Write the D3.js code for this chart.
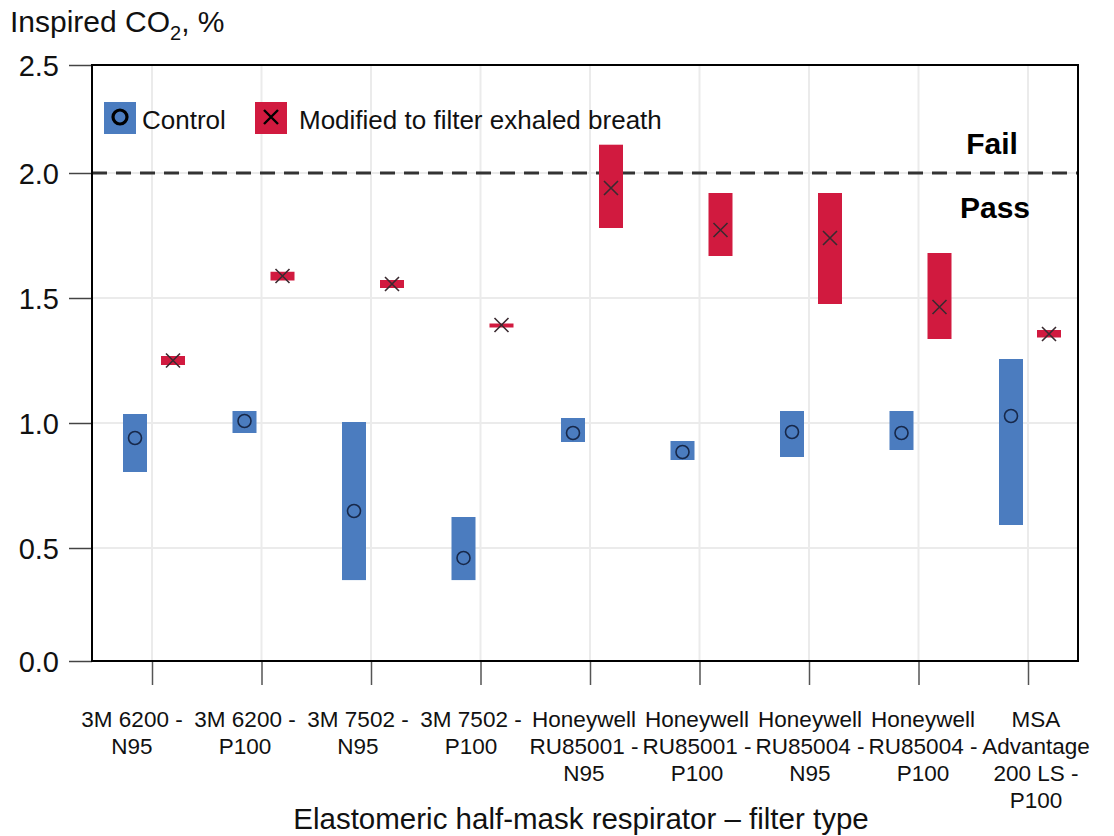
<!DOCTYPE html>
<html>
<head>
<meta charset="utf-8">
<script src="https://cdn.jsdelivr.net/npm/d3@7"></script>
<style>
  html, body { margin: 0; padding: 0; background: #fff; }
  svg { display: block; font-family: "Liberation Sans", Arial, sans-serif; }
</style>
</head>
<body>
<svg id="chart" width="1114" height="836"></svg>
<script>
// ---- data ----
const categories = [
  "3M 6200 - N95", "3M 6200 - P100", "3M 7502 - N95", "3M 7502 - P100",
  "Honeywell RU85001 - N95", "Honeywell RU85001 - P100",
  "Honeywell RU85004 - N95", "Honeywell RU85004 - P100",
  "MSA Advantage 200 LS - P100"
];
const categoryLines = [
  ["3M 6200 -", "N95"], ["3M 6200 -", "P100"], ["3M 7502 -", "N95"], ["3M 7502 -", "P100"],
  ["Honeywell", "RU85001 -", "N95"], ["Honeywell", "RU85001 -", "P100"],
  ["Honeywell", "RU85004 -", "N95"], ["Honeywell", "RU85004 -", "P100"],
  ["MSA", "Advantage", "200 LS -", "P100"]
];
const controlMean = [0.94, 1.008, 0.648, 0.456, 0.96, 0.884, 0.964, 0.96, 1.028];
const controlLow  = [0.804, 0.96, 0.358, 0.358, 0.924, 0.852, 0.864, 0.892, 0.592];
const controlHigh = [1.036, 1.048, 1.004, 0.624, 1.02, 0.928, 1.048, 1.048, 1.256];
const modifiedMean = [1.25, 1.588, 1.556, 1.392, 1.94, 1.772, 1.74, 1.464, 1.356];
const modifiedLow  = [1.232, 1.57, 1.54, 1.386, 1.78, 1.668, 1.476, 1.336, 1.342];
const modifiedHigh = [1.268, 1.605, 1.572, 1.398, 2.131, 1.92, 1.92, 1.68, 1.372];
const yTicks = [0.0, 0.5, 1.0, 1.5, 2.0, 2.5];
const threshold = 2.0;
const seriesNames = ["Control", "Modified to filter exhaled breath"];
const seriesColors = ["#4b7cbf", "#d11a3f"];

// ---- layout ----
const svg = d3.select("#chart");
const FONT = "'Liberation Sans', Arial, sans-serif";
const plot = { left: 92, right: 1078, top: 65, bottom: 661 };

const y = d3.scaleLinear()
  .domain([0, 0.5, 2.0, 2.5])
  .range([plot.bottom, 548, 173, plot.top]);
const x = d3.scalePoint().domain(categories).range([152, 1028]);
const xLabel = d3.scalePoint().domain(categories).range([132, 1036]);
const offCtrl = -17, offMod = 21, barW = 24;

// gridlines
const grid = svg.append("g");
grid.selectAll("line.h").data(yTicks.filter(d => d > 0 && d < 2.5)).enter().append("line")
  .attr("x1", plot.left).attr("x2", plot.right)
  .attr("y1", d => y(d)).attr("y2", d => y(d))
  .attr("stroke", "#ebebeb").attr("stroke-width", 2);
grid.selectAll("line.v").data(categories).enter().append("line")
  .attr("x1", d => x(d)).attr("x2", d => x(d))
  .attr("y1", plot.top).attr("y2", plot.bottom)
  .attr("stroke", "#ebebeb").attr("stroke-width", 2);

// threshold dashed line
svg.append("line")
  .attr("x1", plot.left).attr("x2", plot.right)
  .attr("y1", y(threshold)).attr("y2", y(threshold))
  .attr("stroke", "#333").attr("stroke-width", 3)
  .attr("stroke-dasharray", "15,9");

// bars
const ctrl = categories.map((c, i) => ({ c, m: controlMean[i], lo: controlLow[i], hi: controlHigh[i] }));
const mod = categories.map((c, i) => ({ c, m: modifiedMean[i], lo: modifiedLow[i], hi: modifiedHigh[i] }));

svg.append("g").selectAll("rect").data(ctrl).enter().append("rect")
  .attr("x", d => x(d.c) + offCtrl - barW / 2).attr("width", barW)
  .attr("y", d => y(d.hi)).attr("height", d => y(d.lo) - y(d.hi))
  .attr("fill", seriesColors[0]);
svg.append("g").selectAll("rect").data(mod).enter().append("rect")
  .attr("x", d => x(d.c) + offMod - barW / 2).attr("width", barW)
  .attr("y", d => y(d.hi)).attr("height", d => Math.max(4, y(d.lo) - y(d.hi)))
  .attr("fill", seriesColors[1]);

// markers
svg.append("g").selectAll("circle").data(ctrl).enter().append("circle")
  .attr("cx", d => x(d.c) + offCtrl).attr("cy", d => y(d.m)).attr("r", 6.5)
  .attr("fill", "none").attr("stroke", "#17284a").attr("stroke-width", 1.6);
const xm = svg.append("g").selectAll("g").data(mod).enter().append("g")
  .attr("transform", d => `translate(${x(d.c) + offMod},${y(d.m)})`);
xm.append("path").attr("d", "M-7,-7L7,7M-7,7L7,-7")
  .attr("stroke", "#3a2a30").attr("stroke-width", 1.6).attr("fill", "none");

// axes
const yAxis = d3.axisLeft(y).tickValues(yTicks).tickFormat(d3.format(".1f")).tickSize(23).tickPadding(10);
const gy = svg.append("g").attr("transform", `translate(${plot.left},0)`).call(yAxis);
gy.select(".domain").remove();
gy.selectAll(".tick line").attr("stroke", "#444").attr("stroke-width", 1.5);
gy.selectAll(".tick text").attr("font-size", 29).attr("fill", "#111")
  .attr("font-family", FONT).attr("dy", "0.36em");

const xAxis = d3.axisBottom(x).tickFormat("").tickSize(24);
const gx = svg.append("g").attr("transform", `translate(0,${plot.bottom})`).call(xAxis);
gx.select(".domain").remove();
gx.selectAll(".tick line").attr("stroke", "#555").attr("stroke-width", 1.5);

// x category labels
const lab = svg.append("g").selectAll("text").data(categories).enter().append("text")
  .attr("x", d => xLabel(d)).attr("y", 727)
  .attr("text-anchor", "middle").attr("font-size", 22.5).attr("fill", "#111");
lab.each(function(d, i) {
  const t = d3.select(this);
  categoryLines[i].forEach((ln, j) => {
    t.append("tspan").attr("x", xLabel(d)).attr("y", 727 + j * 27).text(ln);
  });
});

// plot box
svg.append("rect")
  .attr("x", plot.left).attr("y", plot.top)
  .attr("width", plot.right - plot.left).attr("height", plot.bottom - plot.top)
  .attr("fill", "none").attr("stroke", "#000").attr("stroke-width", 2);

// Fail / Pass labels
svg.append("text").attr("x", 992).attr("y", 154).attr("text-anchor", "middle")
  .attr("font-size", 30).attr("font-weight", "bold").attr("fill", "#000").text("Fail");
svg.append("text").attr("x", 995).attr("y", 218).attr("text-anchor", "middle")
  .attr("font-size", 30).attr("font-weight", "bold").attr("fill", "#000").text("Pass");

// legend
const leg = svg.append("g");
leg.append("rect").attr("x", 104).attr("y", 102).attr("width", 32).attr("height", 32).attr("fill", seriesColors[0]);
leg.append("circle").attr("cx", 120).attr("cy", 117).attr("r", 7)
  .attr("fill", "none").attr("stroke", "#000").attr("stroke-width", 3.2);
leg.append("text").attr("x", 142).attr("y", 129).attr("font-size", 26).attr("fill", "#111").text(seriesNames[0]);
leg.append("rect").attr("x", 255).attr("y", 102).attr("width", 32).attr("height", 32).attr("fill", seriesColors[1]);
leg.append("path").attr("d", "M264,110L278,124M264,124L278,110")
  .attr("stroke", "#000").attr("stroke-width", 2.4);
leg.append("text").attr("x", 299).attr("y", 129).attr("font-size", 26).attr("fill", "#111").text(seriesNames[1]);

// axis titles
const yt = svg.append("text").attr("x", 10).attr("y", 32).attr("font-size", 30).attr("fill", "#111");
yt.append("tspan").text("Inspired CO");
yt.append("tspan").attr("font-size", 20).attr("dy", 8).text("2");
yt.append("tspan").attr("dy", -8).text(", %");

svg.append("text").attr("x", 581).attr("y", 829).attr("text-anchor", "middle")
  .attr("font-size", 29.5).attr("fill", "#111")
  .text("Elastomeric half-mask respirator \u2013 filter type");
</script>
</body>
</html>
